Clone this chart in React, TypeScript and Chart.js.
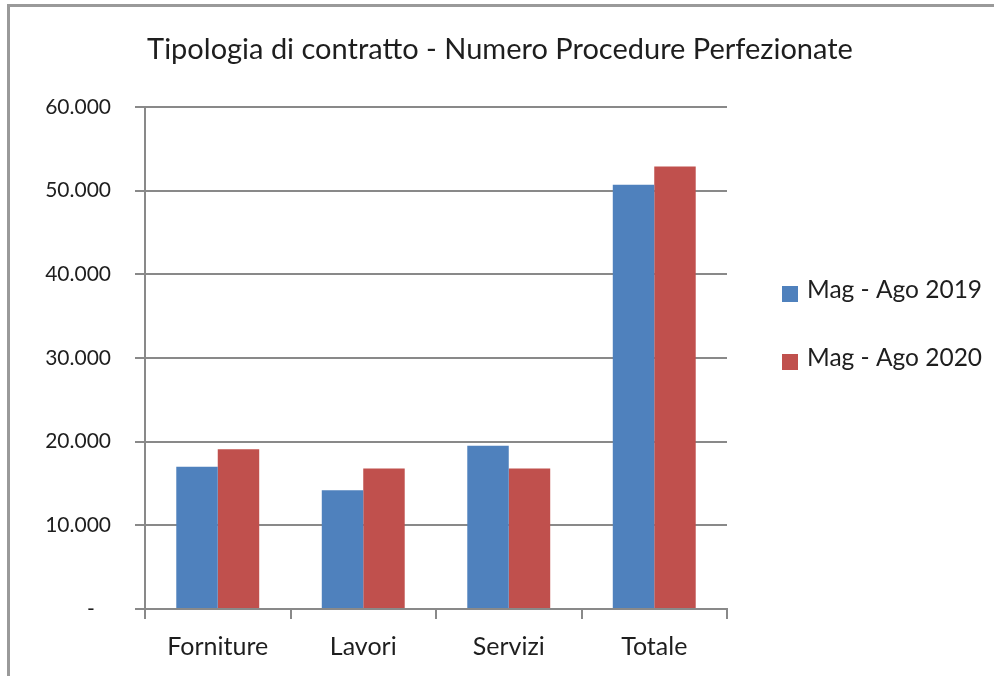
import React, { useEffect, useRef } from "react";
import { Chart, registerables } from "chart.js";

Chart.register(...registerables);

const chartTitle = "Tipologia di contratto - Numero Procedure Perfezionate";
const categories = ["Forniture", "Lavori", "Servizi", "Totale"];
const seriesLabels = ["Mag - Ago 2019", "Mag - Ago 2020"];
const values2019 = [17000, 14200, 19500, 50700];
const values2020 = [19100, 16800, 16800, 52900];
const yTickLabels = ["-   ", "10.000", "20.000", "30.000", "40.000", "50.000", "60.000"];
const seriesColors = ["#4F81BD", "#C0504D"];

const FONT = "Lato, 'Noto Sans', sans-serif";
const TEXT = "#1e1e1e";
const GRID = "#898989";

const framePlugin = {
  id: "frame",
  beforeDraw(chart: any) {
    const ctx = chart.ctx;
    ctx.save();
    ctx.fillStyle = "#ffffff";
    ctx.fillRect(0, 0, chart.width, chart.height);
    ctx.fillStyle = "#9a9a9a";
    ctx.fillRect(7, 4, chart.width - 7, 3);
    ctx.fillRect(7, 4, 3, chart.height - 4);
    // title
    ctx.fillStyle = TEXT;
    ctx.font = `29px ${FONT}`;
    ctx.textAlign = "center";
    ctx.textBaseline = "middle";
    ctx.fillText(chartTitle, 500, 50);
    ctx.restore();
  },
};

const legendPlugin = {
  id: "sideLegend",
  afterDraw(chart: any) {
    const ctx = chart.ctx;
    const area = chart.chartArea;
    ctx.save();
    ctx.font = `24.5px ${FONT}`;
    ctx.textBaseline = "middle";
    ctx.textAlign = "left";
    const centers = [290, 358];
    chart.data.datasets.forEach((ds: any, i: number) => {
      const cy = centers[i];
      ctx.fillStyle = ds.backgroundColor;
      ctx.fillRect(area.right + 55, cy - 4, 16, 16);
      ctx.fillStyle = TEXT;
      ctx.fillText(ds.label, area.right + 80, cy);
    });
    ctx.restore();
  },
};

export default function App() {
  const ref = useRef<HTMLCanvasElement>(null);

  useEffect(() => {
    if (!ref.current) return;
    const chart = new Chart(ref.current, {
      type: "bar",
      data: {
        labels: categories,
        datasets: [
          { label: seriesLabels[0], data: values2019, backgroundColor: seriesColors[0], borderWidth: 0 },
          { label: seriesLabels[1], data: values2020, backgroundColor: seriesColors[1], borderWidth: 0 },
        ],
      },
      plugins: [framePlugin, legendPlugin],
      options: {
        responsive: false,
        animation: false,
        layout: { padding: { left: 0, right: 267, top: 107, bottom: 0 } },
        datasets: { bar: { categoryPercentage: 0.57, barPercentage: 1 } },
        plugins: {
          legend: { display: false },
          tooltip: { enabled: false },
          title: { display: false },
        },
        scales: {
          x: {
            grid: {
              display: true,
              drawOnChartArea: false,
              drawTicks: true,
              tickLength: 10,
              color: GRID,
              lineWidth: 2,
            },
            border: { display: true, color: GRID, width: 2 },
            ticks: { color: TEXT, font: { family: FONT, size: 25 }, padding: 13 },
            afterFit(scale: any) {
              scale.height = 67;
            },
          },
          y: {
            min: 0,
            max: 60000,
            ticks: {
              stepSize: 10000,
              color: TEXT,
              font: { family: FONT, size: 21 },
              padding: 24,
              callback: (_v: any, i: number) => yTickLabels[i],
            },
            grid: { color: GRID, lineWidth: 2, tickLength: 10 },
            border: { display: true, color: GRID, width: 2 },
            afterFit(scale: any) {
              scale.width = 145;
            },
          },
        },
      },
    });
    return () => chart.destroy();
  }, []);

  return (
    <div style={{ position: "absolute", left: 0, top: 0, width: 994, height: 676 }}>
      <canvas ref={ref} width={994} height={676} style={{ display: "block" }} />
    </div>
  );
}
